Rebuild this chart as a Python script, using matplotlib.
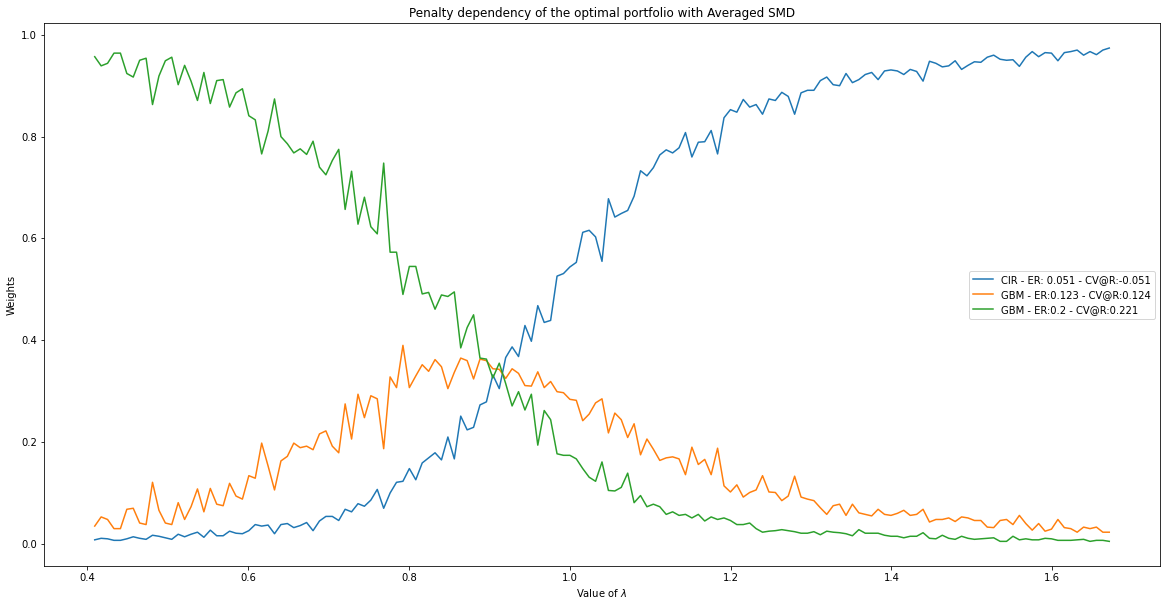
import numpy as np
import matplotlib
matplotlib.use("Agg")
import matplotlib.pyplot as plt

# range of the penalty parameter lambda (evenly spaced grid)
lam_start = 0.409
lam_end = 1.671

# optimal weights, one value per lambda
cir_w = [0.008, 0.011, 0.010, 0.007, 0.007, 0.010, 0.014, 0.011, 0.009, 0.017,
         0.015, 0.012, 0.009, 0.019, 0.014, 0.019, 0.023, 0.013, 0.027, 0.016,
         0.016, 0.025, 0.021, 0.020, 0.026, 0.038, 0.035, 0.037, 0.020, 0.038,
         0.040, 0.032, 0.036, 0.042, 0.026, 0.045, 0.054, 0.054, 0.046, 0.068,
         0.063, 0.079, 0.074, 0.086, 0.107, 0.070, 0.100, 0.121, 0.123, 0.148,
         0.126, 0.159, 0.169, 0.179, 0.165, 0.210, 0.167, 0.251, 0.224, 0.229,
         0.273, 0.279, 0.332, 0.305, 0.366, 0.387, 0.368, 0.429, 0.398, 0.468,
         0.435, 0.439, 0.526, 0.531, 0.544, 0.553, 0.612, 0.616, 0.603, 0.555,
         0.678, 0.642, 0.649, 0.655, 0.683, 0.733, 0.723, 0.739, 0.764, 0.774,
         0.768, 0.778, 0.808, 0.760, 0.789, 0.790, 0.812, 0.766, 0.837, 0.853,
         0.848, 0.873, 0.858, 0.863, 0.844, 0.874, 0.871, 0.887, 0.879, 0.844,
         0.886, 0.891, 0.891, 0.910, 0.917, 0.902, 0.900, 0.924, 0.906, 0.912,
         0.922, 0.926, 0.912, 0.929, 0.931, 0.929, 0.922, 0.932, 0.928, 0.909,
         0.948, 0.944, 0.937, 0.939, 0.949, 0.932, 0.940, 0.947, 0.946, 0.956,
         0.960, 0.952, 0.950, 0.951, 0.938, 0.956, 0.967, 0.957, 0.965, 0.964,
         0.949, 0.965, 0.967, 0.970, 0.960, 0.967, 0.961, 0.970, 0.974]

gbm1_w = [0.035, 0.053, 0.048, 0.030, 0.030, 0.068, 0.070, 0.041, 0.038, 0.121,
          0.066, 0.041, 0.038, 0.081, 0.048, 0.073, 0.108, 0.063, 0.109, 0.078,
          0.075, 0.119, 0.094, 0.088, 0.134, 0.129, 0.198, 0.153, 0.106, 0.163,
          0.172, 0.198, 0.189, 0.192, 0.185, 0.216, 0.222, 0.192, 0.179, 0.275,
          0.206, 0.294, 0.248, 0.291, 0.285, 0.187, 0.328, 0.307, 0.390, 0.307,
          0.330, 0.352, 0.339, 0.362, 0.348, 0.305, 0.337, 0.365, 0.360, 0.324,
          0.363, 0.360, 0.344, 0.343, 0.325, 0.344, 0.335, 0.311, 0.310, 0.338,
          0.307, 0.319, 0.299, 0.297, 0.284, 0.282, 0.242, 0.255, 0.277, 0.285,
          0.218, 0.257, 0.244, 0.209, 0.236, 0.175, 0.206, 0.186, 0.164, 0.169,
          0.171, 0.167, 0.136, 0.190, 0.156, 0.166, 0.136, 0.188, 0.114, 0.102,
          0.116, 0.092, 0.101, 0.106, 0.134, 0.102, 0.101, 0.085, 0.094, 0.133,
          0.092, 0.088, 0.085, 0.071, 0.058, 0.075, 0.078, 0.056, 0.078, 0.061,
          0.058, 0.055, 0.068, 0.058, 0.056, 0.060, 0.066, 0.056, 0.058, 0.068,
          0.043, 0.048, 0.048, 0.051, 0.044, 0.053, 0.051, 0.046, 0.046, 0.033,
          0.032, 0.046, 0.048, 0.038, 0.056, 0.040, 0.027, 0.040, 0.025, 0.029,
          0.048, 0.032, 0.030, 0.023, 0.033, 0.030, 0.033, 0.023, 0.023]

gbm2_w = [0.957, 0.939, 0.944, 0.964, 0.964, 0.924, 0.917, 0.950, 0.954, 0.863,
          0.919, 0.949, 0.956, 0.902, 0.940, 0.909, 0.871, 0.926, 0.865, 0.910,
          0.912, 0.858, 0.886, 0.894, 0.841, 0.833, 0.766, 0.811, 0.874, 0.800,
          0.786, 0.768, 0.776, 0.765, 0.791, 0.740, 0.725, 0.753, 0.775, 0.657,
          0.732, 0.628, 0.681, 0.623, 0.609, 0.748, 0.573, 0.573, 0.490, 0.545,
          0.545, 0.491, 0.494, 0.461, 0.489, 0.486, 0.495, 0.385, 0.425, 0.450,
          0.365, 0.363, 0.326, 0.355, 0.315, 0.271, 0.299, 0.263, 0.294, 0.194,
          0.262, 0.244, 0.177, 0.174, 0.174, 0.167, 0.148, 0.131, 0.123, 0.161,
          0.105, 0.104, 0.111, 0.139, 0.081, 0.095, 0.073, 0.078, 0.073, 0.058,
          0.063, 0.056, 0.058, 0.051, 0.058, 0.045, 0.053, 0.048, 0.051, 0.046,
          0.038, 0.038, 0.041, 0.030, 0.023, 0.025, 0.026, 0.028, 0.026, 0.024,
          0.021, 0.021, 0.024, 0.018, 0.025, 0.023, 0.022, 0.020, 0.016, 0.028,
          0.021, 0.021, 0.021, 0.017, 0.015, 0.015, 0.012, 0.015, 0.015, 0.022,
          0.011, 0.010, 0.017, 0.011, 0.009, 0.015, 0.011, 0.009, 0.010, 0.011,
          0.012, 0.005, 0.005, 0.015, 0.008, 0.010, 0.008, 0.008, 0.011, 0.010,
          0.007, 0.007, 0.007, 0.008, 0.009, 0.005, 0.007, 0.007, 0.005]

labels = ["CIR - ER: 0.051 - CV@R:-0.051",
          "GBM - ER:0.123 - CV@R:0.124",
          "GBM - ER:0.2 - CV@R:0.221"]

lam = np.linspace(lam_start, lam_end, len(cir_w))

fig = plt.figure(figsize=(1167 / 72, 607 / 72), dpi=72)
ax = fig.add_axes([0.0377, 0.0675, 0.9563, 0.894])

# una linea per asset
for w, lab in zip([cir_w, gbm1_w, gbm2_w], labels):
    ax.plot(lam, w, label=lab)

ax.set_title("Penalty dependency of the optimal portfolio with Averaged SMD")
ax.set_xlabel(r"Value of $\lambda$")
ax.set_ylabel("Weights")
ax.legend(loc="center right")

fig.savefig("out.png", dpi=72)
plt.close(fig)
